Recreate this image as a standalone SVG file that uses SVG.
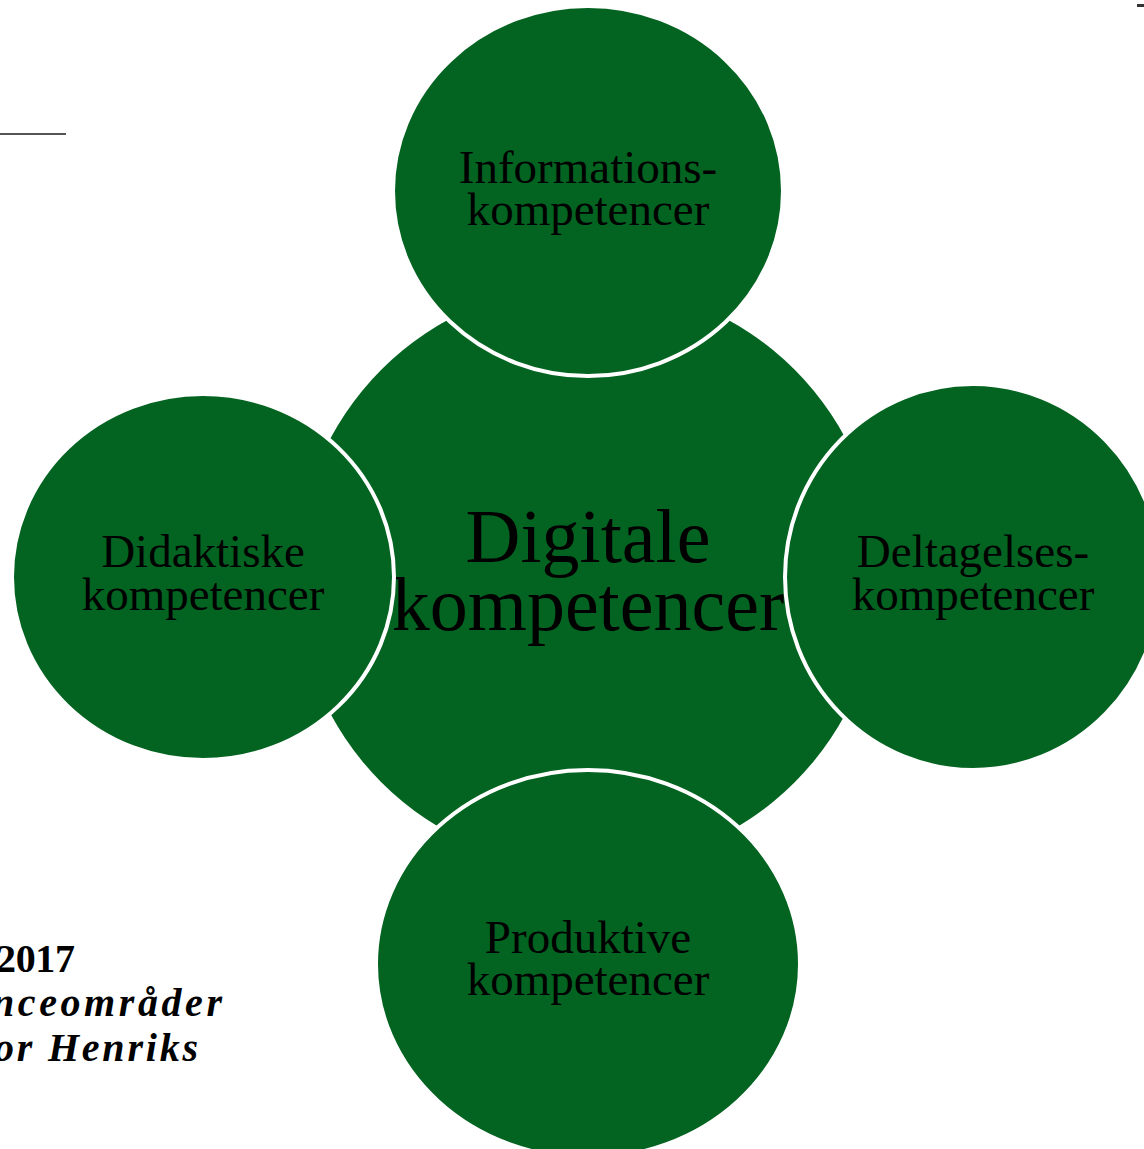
<svg xmlns="http://www.w3.org/2000/svg" width="1144" height="1149" viewBox="0 0 1144 1149">
<style>
.c{fill:#036320}
.s{fill:#036320;stroke:#ffffff;stroke-width:4}
.t{font-family:"Liberation Serif","Times New Roman",serif;font-size:47px;fill:#000;text-anchor:middle}
.big{font-family:"Liberation Serif","Times New Roman",serif;font-size:76px;fill:#000;text-anchor:middle}
.bl{font-family:"Liberation Serif","Times New Roman",serif;font-size:40px;font-weight:bold;fill:#000}
</style>
<rect width="1144" height="1149" fill="#ffffff"/>
<line x1="0" y1="134" x2="66" y2="134" stroke="#555555" stroke-width="2"/>
<rect x="1137" y="4" width="7" height="3" fill="#333333"/>
<g id="connectors"></g>
<g id="center">
<circle class="c" cx="588" cy="576" r="292"/>
<text class="big" x="588" y="562">Digitale</text>
<text class="big" x="588" y="630">kompetencer</text>
</g>
<g id="top">
<ellipse class="s" cx="588" cy="191" rx="195" ry="185"/>
<text class="t" x="588" y="183">Informations-</text>
<text class="t" x="588" y="225">kompetencer</text>
</g>
<g id="left">
<ellipse class="s" cx="203" cy="577" rx="191" ry="183"/>
<text class="t" x="203" y="567">Didaktiske</text>
<text class="t" x="203" y="610">kompetencer</text>
</g>
<g id="right">
<ellipse class="s" cx="973" cy="577" rx="188" ry="193"/>
<text class="t" x="973" y="567">Deltagelses-</text>
<text class="t" x="973" y="610">kompetencer</text>
</g>
<g id="bottom">
<ellipse class="s" cx="588" cy="964" rx="212" ry="194"/>
<text class="t" x="588" y="953">Produktive</text>
<text class="t" x="588" y="995">kompetencer</text>
</g>
<g id="caption">
<text class="bl" x="-4" y="972" textLength="79">2017</text>
<text class="bl" x="-8" y="1016" font-style="italic" textLength="230">nceområder</text>
<text class="bl" x="-6" y="1061" font-style="italic" textLength="204">or Henriks</text>
</g>
</svg>
